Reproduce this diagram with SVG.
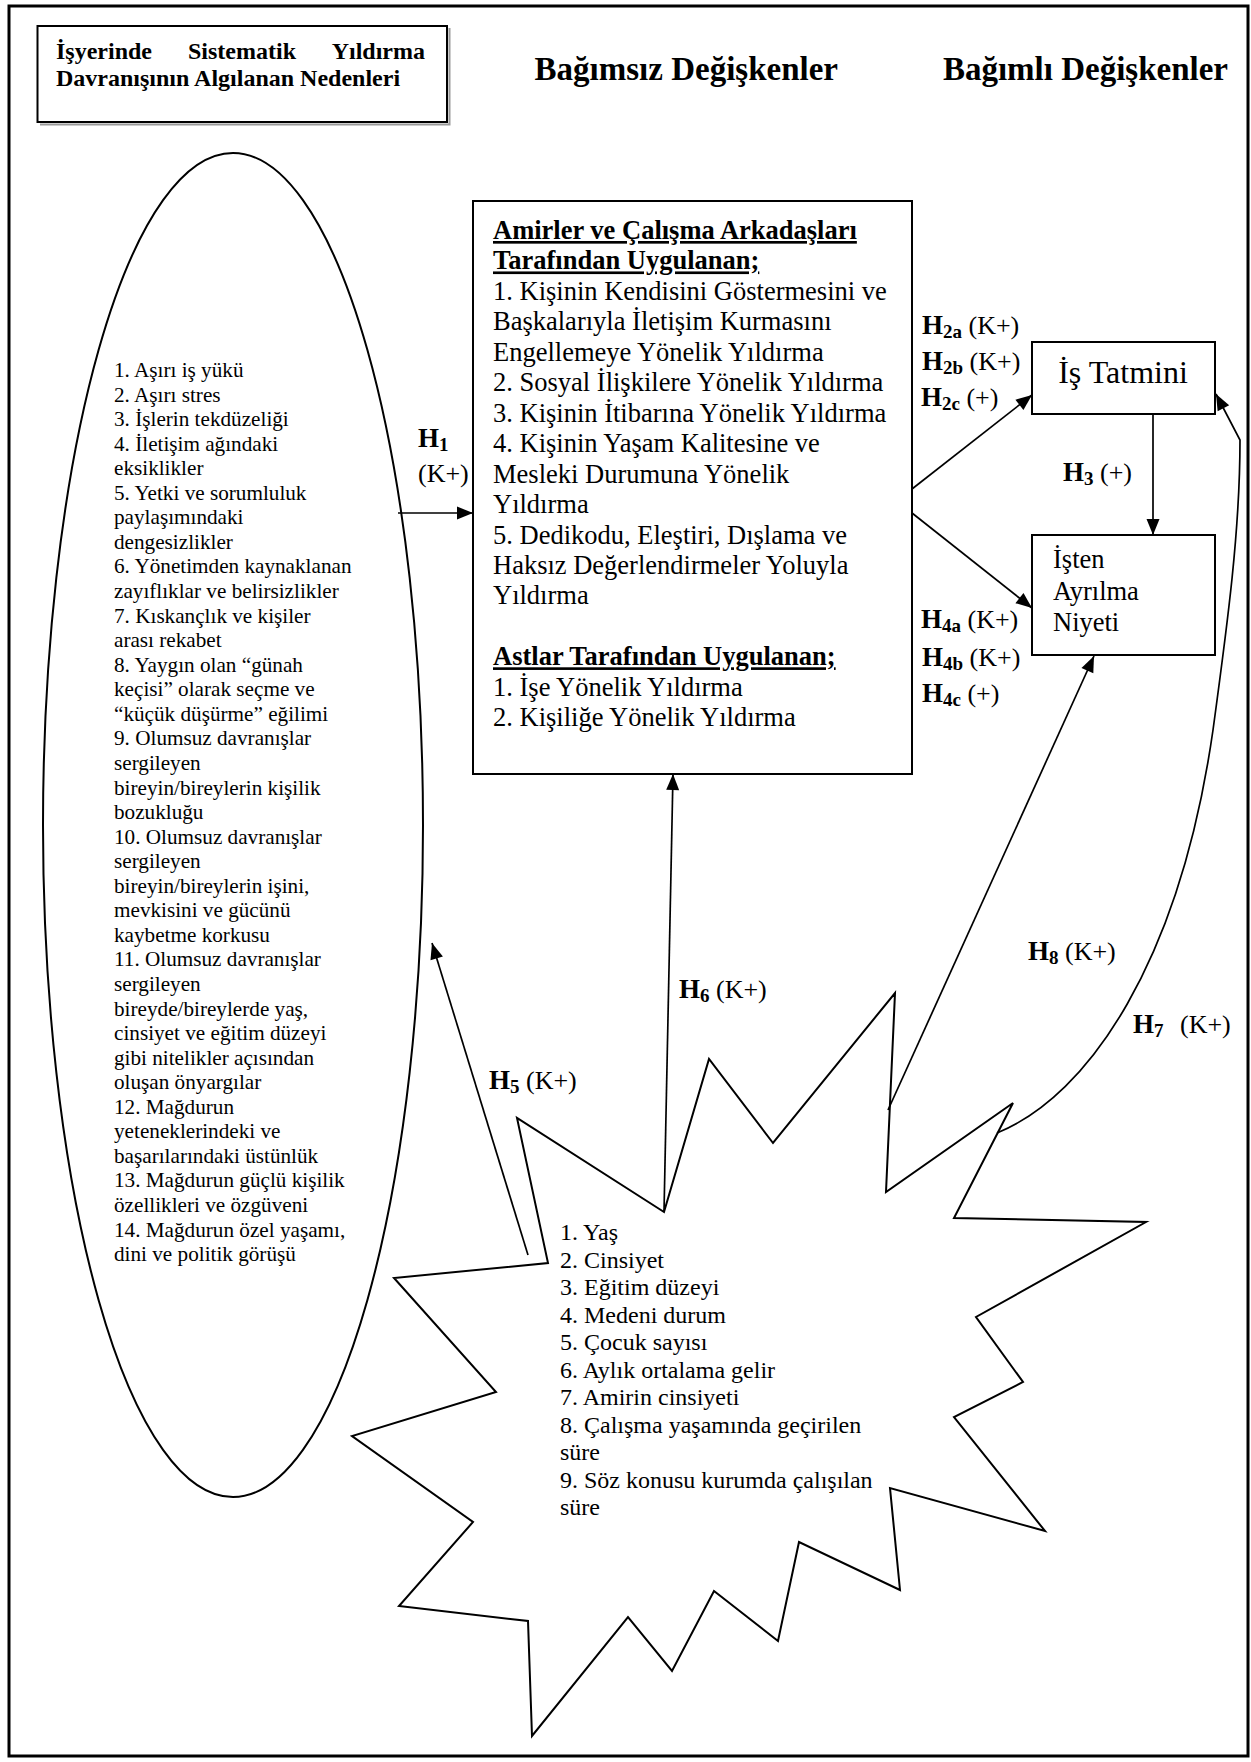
<svg xmlns="http://www.w3.org/2000/svg" width="1251" height="1762" viewBox="0 0 1251 1762">
  <style>
    text { font-family: "Liberation Serif", "Times New Roman", serif; fill: #000; }
    .frame { fill: none; stroke: #000; stroke-width: 3; }
    .box { fill: #fff; stroke: #000; stroke-width: 2; }
    .shadow { fill: none; stroke: #9a9a9a; stroke-width: 2; }
    .shape { fill: #fff; stroke: #000; stroke-width: 2; stroke-linejoin: miter; }
    .title { font-size: 24px; font-weight: bold; }
    .head { font-size: 33px; font-weight: bold; }
    .causes { font-size: 21.2px; }
    .main { font-size: 26.5px; }
    .main .u { font-weight: bold; text-decoration: underline; }
    .demo { font-size: 24px; }
    .dep { font-size: 26.5px; }
    .dep-big { font-size: 32px; }
    .hb { font-size: 27px; font-weight: bold; }
    .hs { font-size: 19px; font-weight: bold; }
    .hr { font-size: 26px; }
    .link { fill: none; stroke: #000; stroke-width: 1.7; }
    .arrow { marker-end: url(#ah); }
  </style>
  <defs>
    <marker id="ah" markerUnits="userSpaceOnUse" markerWidth="17" markerHeight="14" refX="16" refY="6.5" orient="auto" overflow="visible">
      <path d="M0,0 L16,6.5 L0,13 z" fill="#000"/>
    </marker>
  </defs>

  <rect width="1251" height="1762" fill="#fff"/>
  <rect class="frame" x="9" y="6" width="1239" height="1750"/>

  <!-- title box -->
  <g id="title">
    <polyline class="shadow" points="449.5,28 449.5,124.5 40,124.5"/>
    <rect class="box" x="37.5" y="26" width="409.5" height="96" stroke-width="2.5"/>
    <text class="title" x="56" y="59">İşyerinde</text>
    <text class="title" x="188" y="59">Sistematik</text>
    <text class="title" x="425" y="59" text-anchor="end">Yıldırma</text>
    <text class="title" x="56" y="86">Davranışının Algılanan Nedenleri</text>
  </g>

  <!-- column headers -->
  <g id="headers">
    <text class="head" x="838" y="80" text-anchor="end">Bağımsız Değişkenler</text>
    <text class="head" x="1228" y="80" text-anchor="end">Bağımlı Değişkenler</text>
  </g>

  <!-- perceived causes -->
  <g id="causes">
    <ellipse class="shape" cx="233" cy="825" rx="190" ry="672"/>
    <text class="causes">
      <tspan x="114" y="377">1. Aşırı iş yükü</tspan>
      <tspan x="114" dy="24.56">2. Aşırı stres</tspan>
      <tspan x="114" dy="24.56">3. İşlerin tekdüzeliği</tspan>
      <tspan x="114" dy="24.56">4. İletişim ağındaki</tspan>
      <tspan x="114" dy="24.56">eksiklikler</tspan>
      <tspan x="114" dy="24.56">5. Yetki ve sorumluluk</tspan>
      <tspan x="114" dy="24.56">paylaşımındaki</tspan>
      <tspan x="114" dy="24.56">dengesizlikler</tspan>
      <tspan x="114" dy="24.56">6. Yönetimden kaynaklanan</tspan>
      <tspan x="114" dy="24.56">zayıflıklar ve belirsizlikler</tspan>
      <tspan x="114" dy="24.56">7. Kıskançlık ve kişiler</tspan>
      <tspan x="114" dy="24.56">arası rekabet</tspan>
      <tspan x="114" dy="24.56">8. Yaygın olan “günah</tspan>
      <tspan x="114" dy="24.56">keçisi” olarak seçme ve</tspan>
      <tspan x="114" dy="24.56">“küçük düşürme” eğilimi</tspan>
      <tspan x="114" dy="24.56">9. Olumsuz davranışlar</tspan>
      <tspan x="114" dy="24.56">sergileyen</tspan>
      <tspan x="114" dy="24.56">bireyin/bireylerin kişilik</tspan>
      <tspan x="114" dy="24.56">bozukluğu</tspan>
      <tspan x="114" dy="24.56">10. Olumsuz davranışlar</tspan>
      <tspan x="114" dy="24.56">sergileyen</tspan>
      <tspan x="114" dy="24.56">bireyin/bireylerin işini,</tspan>
      <tspan x="114" dy="24.56">mevkisini ve gücünü</tspan>
      <tspan x="114" dy="24.56">kaybetme korkusu</tspan>
      <tspan x="114" dy="24.56">11. Olumsuz davranışlar</tspan>
      <tspan x="114" dy="24.56">sergileyen</tspan>
      <tspan x="114" dy="24.56">bireyde/bireylerde yaş,</tspan>
      <tspan x="114" dy="24.56">cinsiyet ve eğitim düzeyi</tspan>
      <tspan x="114" dy="24.56">gibi nitelikler açısından</tspan>
      <tspan x="114" dy="24.56">oluşan önyargılar</tspan>
      <tspan x="114" dy="24.56">12. Mağdurun</tspan>
      <tspan x="114" dy="24.56">yeteneklerindeki ve</tspan>
      <tspan x="114" dy="24.56">başarılarındaki üstünlük</tspan>
      <tspan x="114" dy="24.56">13. Mağdurun güçlü kişilik</tspan>
      <tspan x="114" dy="24.56">özellikleri ve özgüveni</tspan>
      <tspan x="114" dy="24.56">14. Mağdurun özel yaşamı,</tspan>
      <tspan x="114" dy="24.56">dini ve politik görüşü</tspan>
    </text>
  </g>

  <!-- independent variables: mobbing types -->
  <g id="mobbing">
    <rect class="box" x="473" y="201" width="439" height="573"/>
    <text class="main">
      <tspan class="u" x="493" y="239">Amirler ve Çalışma Arkadaşları</tspan>
      <tspan class="u" x="493" dy="30.45">Tarafından Uygulanan;</tspan>
      <tspan x="493" dy="30.45">1. Kişinin Kendisini Göstermesini ve</tspan>
      <tspan x="493" dy="30.45">Başkalarıyla İletişim Kurmasını</tspan>
      <tspan x="493" dy="30.45">Engellemeye Yönelik Yıldırma</tspan>
      <tspan x="493" dy="30.45">2. Sosyal İlişkilere Yönelik Yıldırma</tspan>
      <tspan x="493" dy="30.45">3. Kişinin İtibarına Yönelik Yıldırma</tspan>
      <tspan x="493" dy="30.45">4. Kişinin Yaşam Kalitesine ve</tspan>
      <tspan x="493" dy="30.45">Mesleki Durumuna Yönelik</tspan>
      <tspan x="493" dy="30.45">Yıldırma</tspan>
      <tspan x="493" dy="30.45">5. Dedikodu, Eleştiri, Dışlama ve</tspan>
      <tspan x="493" dy="30.45">Haksız Değerlendirmeler Yoluyla</tspan>
      <tspan x="493" dy="30.45">Yıldırma</tspan>
      <tspan class="u" x="493" dy="60.9">Astlar Tarafından Uygulanan;</tspan>
      <tspan x="493" dy="30.45">1. İşe Yönelik Yıldırma</tspan>
      <tspan x="493" dy="30.45">2. Kişiliğe Yönelik Yıldırma</tspan>
    </text>
  </g>

  <!-- dependent variables -->
  <g id="job-satisfaction">
    <rect class="box" x="1032" y="342" width="183" height="72"/>
    <text class="dep-big" x="1123" y="383" text-anchor="middle">İş Tatmini</text>
  </g>
  <g id="turnover-intention">
    <rect class="box" x="1032" y="535" width="183" height="120"/>
    <text class="dep">
      <tspan x="1053" y="568">İşten</tspan>
      <tspan x="1053" y="600">Ayrılma</tspan>
      <tspan x="1053" y="631">Niyeti</tspan>
    </text>
  </g>

  <!-- demographic variables -->
  <g id="demographics">
    <polygon class="shape" points="664,1212 517,1118 548,1263 394,1278 496,1392 352,1436 473,1522 399,1606 528,1621 532,1736 628,1617 672,1671 714,1591 778,1641 799,1542 900,1590 890,1488 1045,1531 954,1417 1023,1382 976,1317 1146,1222 954,1218 1013,1103 886,1192 895,993 773,1143 709,1059"/>
    <text class="demo">
      <tspan x="560" y="1240">1. Yaş</tspan>
      <tspan x="560" dy="27.5">2. Cinsiyet</tspan>
      <tspan x="560" dy="27.5">3. Eğitim düzeyi</tspan>
      <tspan x="560" dy="27.5">4. Medeni durum</tspan>
      <tspan x="560" dy="27.5">5. Çocuk sayısı</tspan>
      <tspan x="560" dy="27.5">6. Aylık ortalama gelir</tspan>
      <tspan x="560" dy="27.5">7. Amirin cinsiyeti</tspan>
      <tspan x="560" dy="27.5">8. Çalışma yaşamında geçirilen</tspan>
      <tspan x="560" dy="27.5">süre</tspan>
      <tspan x="560" dy="27.5">9. Söz konusu kurumda çalışılan</tspan>
      <tspan x="560" dy="27.5">süre</tspan>
    </text>
  </g>

  <!-- hypothesis paths -->
  <g id="connectors">
    <line class="link arrow" x1="398" y1="513" x2="473" y2="513"/>
    <line class="link arrow" x1="912" y1="489" x2="1032" y2="395"/>
    <line class="link arrow" x1="912" y1="513" x2="1032" y2="608"/>
    <line class="link arrow" x1="1153" y1="414" x2="1153" y2="535"/>
    <line class="link arrow" x1="528" y1="1255" x2="432" y2="943"/>
    <line class="link arrow" x1="664" y1="1212" x2="673" y2="774"/>
    <line class="link arrow" x1="888" y1="1110" x2="1094" y2="656"/>
    <path class="link arrow" d="M997,1133 C1090,1095 1180,960 1213,730 C1228,620 1240,530 1240,440 L1216,394"/>
  </g>

  <!-- hypothesis labels -->
  <g id="labels">
    <text x="418" y="447"><tspan class="hb">H</tspan><tspan class="hs" dy="4">1</tspan></text>
    <text class="hr" x="418" y="482">(K+)</text>

    <text x="922" y="334"><tspan class="hb">H</tspan><tspan class="hs" dy="4">2a</tspan><tspan class="hr" dy="-4"> (K+)</tspan></text>
    <text x="922" y="370"><tspan class="hb">H</tspan><tspan class="hs" dy="4">2b</tspan><tspan class="hr" dy="-4"> (K+)</tspan></text>
    <text x="921" y="406"><tspan class="hb">H</tspan><tspan class="hs" dy="4">2c</tspan><tspan class="hr" dy="-4"> (+)</tspan></text>

    <text x="1063" y="481"><tspan class="hb">H</tspan><tspan class="hs" dy="4">3</tspan><tspan class="hr" dy="-4"> (+)</tspan></text>

    <text x="921" y="628"><tspan class="hb">H</tspan><tspan class="hs" dy="4">4a</tspan><tspan class="hr" dy="-4"> (K+)</tspan></text>
    <text x="922" y="666"><tspan class="hb">H</tspan><tspan class="hs" dy="4">4b</tspan><tspan class="hr" dy="-4"> (K+)</tspan></text>
    <text x="922" y="702"><tspan class="hb">H</tspan><tspan class="hs" dy="4">4c</tspan><tspan class="hr" dy="-4"> (+)</tspan></text>

    <text x="489" y="1089"><tspan class="hb">H</tspan><tspan class="hs" dy="4">5</tspan><tspan class="hr" dy="-4"> (K+)</tspan></text>
    <text x="679" y="998"><tspan class="hb">H</tspan><tspan class="hs" dy="4">6</tspan><tspan class="hr" dy="-4"> (K+)</tspan></text>
    <text x="1133" y="1033"><tspan class="hb">H</tspan><tspan class="hs" dy="4">7</tspan></text>
    <text class="hr" x="1180" y="1033">(K+)</text>
    <text x="1028" y="960"><tspan class="hb">H</tspan><tspan class="hs" dy="4">8</tspan><tspan class="hr" dy="-4"> (K+)</tspan></text>
  </g>
</svg>
